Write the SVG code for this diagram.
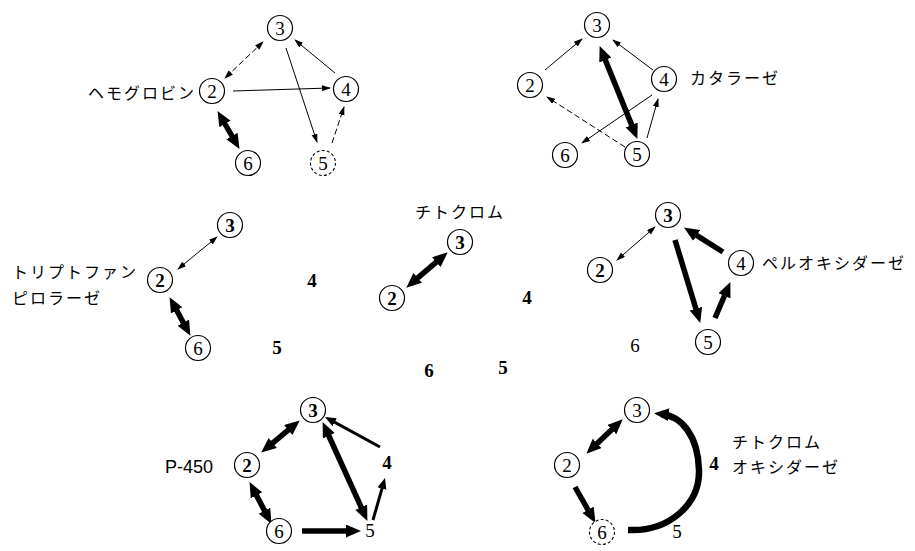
<svg xmlns="http://www.w3.org/2000/svg" width="915" height="551" viewBox="0 0 915 551">
<defs>
<style>
.nc{fill:#fff;stroke:#000;stroke-width:1.2}
.dc{fill:#fff;stroke:#000;stroke-width:1.1;stroke-dasharray:3 2.2}
.d{font-family:"Liberation Serif",serif;font-size:19px;text-anchor:middle;fill:#000}
.db{font-family:"Liberation Serif",serif;font-size:19px;font-weight:bold;text-anchor:middle;fill:#000}
.jp{font-family:"Noto Sans CJK JP","Noto Sans",sans-serif;font-size:16px;letter-spacing:2px;fill:#000}
.en{font-family:"Liberation Sans",sans-serif;font-size:18px;fill:#000}
.t{stroke:#000;stroke-width:1;fill:none}
.td{stroke:#000;stroke-width:1;fill:none;stroke-dasharray:6 3}
.m{stroke:#000;stroke-width:3;fill:none}
.k{stroke:#000;stroke-width:5.5;fill:none}
.kk{stroke:#000;stroke-width:6.5;fill:none}
</style>
<marker id="at" markerUnits="userSpaceOnUse" markerWidth="10" markerHeight="7" refX="8" refY="3" orient="auto-start-reverse"><path d="M0,0 L9,3 L0,6 z" fill="#000"/></marker>
<marker id="am" markerUnits="userSpaceOnUse" markerWidth="12" markerHeight="10" refX="7" refY="4.5" orient="auto-start-reverse"><path d="M0,0 L11,4.5 L0,9 z" fill="#000"/></marker>
<marker id="ak" markerUnits="userSpaceOnUse" markerWidth="16" markerHeight="14" refX="8" refY="6.5" orient="auto-start-reverse"><path d="M0,0 L15,6.5 L0,13 z" fill="#000"/></marker>
</defs>
<rect width="915" height="551" fill="#fff"/>

<g id="connectors">
<!-- hemoglobin -->
<line class="td" x1="263" y1="42" x2="225" y2="78" marker-start="url(#at)" marker-end="url(#at)"/>
<line class="t" x1="233" y1="91" x2="330" y2="88" marker-end="url(#at)"/>
<line class="t" x1="335" y1="73" x2="295" y2="40" marker-end="url(#at)"/>
<line class="t" x1="286" y1="48" x2="317" y2="142" marker-end="url(#at)"/>
<line class="td" x1="332" y1="143" x2="344" y2="107" marker-end="url(#at)"/>
<line class="k" x1="221" y1="117" x2="236" y2="143" marker-start="url(#ak)" marker-end="url(#ak)"/>
<!-- catalase -->
<line class="t" x1="545" y1="70" x2="582" y2="39" marker-end="url(#at)"/>
<line class="t" x1="653" y1="70" x2="613" y2="40" marker-end="url(#at)"/>
<line class="k" x1="602.3" y1="52.6" x2="634.7" y2="132.4" marker-start="url(#ak)" marker-end="url(#ak)"/>
<line class="td" x1="625" y1="147" x2="547" y2="97" marker-end="url(#at)"/>
<line class="t" x1="652" y1="95" x2="582" y2="143" marker-end="url(#at)"/>
<line class="t" x1="647" y1="138" x2="658" y2="99" marker-end="url(#at)"/>
<!-- tryptophan pyrrolase -->
<line class="t" x1="178" y1="269" x2="217" y2="237" marker-start="url(#at)" marker-end="url(#at)"/>
<line class="k" x1="172.9" y1="303.3" x2="187.1" y2="329.7" marker-start="url(#ak)" marker-end="url(#ak)"/>
<!-- cytochrome -->
<line class="k" x1="411.6" y1="283.1" x2="442.4" y2="256.9" marker-start="url(#ak)" marker-end="url(#ak)"/>
<!-- peroxidase -->
<line class="t" x1="617" y1="260" x2="655" y2="227" marker-start="url(#at)" marker-end="url(#at)"/>
<line class="k" x1="675" y1="240" x2="698.2" y2="316.3" marker-end="url(#ak)"/>
<line class="k" x1="723" y1="252" x2="689.9" y2="231.2" marker-end="url(#ak)"/>
<line class="k" x1="715" y1="318" x2="727.6" y2="288.5" marker-end="url(#ak)"/>
<!-- P-450 -->
<line class="k" x1="266.6" y1="448.1" x2="294.4" y2="424.9" marker-start="url(#ak)" marker-end="url(#ak)"/>
<line class="m" x1="380" y1="447" x2="328.5" y2="418.9" marker-end="url(#am)"/>
<line class="k" x1="325.5" y1="428.5" x2="364.5" y2="514.5" marker-start="url(#ak)" marker-end="url(#ak)"/>
<line class="m" x1="373" y1="520" x2="383.9" y2="481.8" marker-end="url(#am)"/>
<line class="k" x1="252.8" y1="488.3" x2="268.2" y2="517.7" marker-start="url(#ak)" marker-end="url(#ak)"/>
<line class="k" x1="302" y1="531" x2="354" y2="531" marker-end="url(#ak)"/>
<!-- cytochrome oxidase -->
<line class="k" x1="591.4" y1="448.9" x2="617.6" y2="424.1" marker-start="url(#ak)" marker-end="url(#ak)"/>
<line class="k" x1="575" y1="487" x2="592" y2="516.8" marker-end="url(#ak)"/>
<path class="kk" d="M628,530 C668,532 700,505 699,470 C698,436 682,416 661,414" marker-end="url(#ak)"/>
</g>

<!-- Hemoglobin -->
<g id="hemoglobin">
<text class="jp" x="88" y="99">ヘモグロビン</text>
<g id="hb-n3"><circle class="nc" cx="280" cy="28" r="12.5"/><text class="d" x="280" y="34.5">3</text></g>
<g id="hb-n2"><circle class="nc" cx="212" cy="91" r="12.5"/><text class="d" x="212" y="97.5">2</text></g>
<g id="hb-n4"><circle class="nc" cx="346" cy="89" r="12.5"/><text class="d" x="346" y="95.5">4</text></g>
<g id="hb-n6"><circle class="nc" cx="248" cy="163" r="12.5"/><text class="d" x="248" y="169.5">6</text></g>
<g id="hb-n5"><circle class="dc" cx="323" cy="163" r="12.5"/><text class="d" x="323" y="169.5">5</text></g>
</g>

<!-- Catalase -->
<g id="catalase">
<text class="jp" x="690" y="84">カタラーゼ</text>
<g id="ca-n3"><circle class="nc" cx="597" cy="25" r="12.5"/><text class="d" x="597" y="31.5">3</text></g>
<g id="ca-n2"><circle class="nc" cx="530" cy="85" r="12.5"/><text class="d" x="530" y="91.5">2</text></g>
<g id="ca-n4"><circle class="nc" cx="664" cy="79" r="12.5"/><text class="d" x="664" y="85.5">4</text></g>
<g id="ca-n6"><circle class="nc" cx="565" cy="155" r="12.5"/><text class="d" x="565" y="161.5">6</text></g>
<g id="ca-n5"><circle class="nc" cx="637" cy="154" r="12.5"/><text class="d" x="637" y="160.5">5</text></g>
</g>

<!-- Tryptophan pyrrolase -->
<g id="tryptophan">
<text class="jp" x="12" y="278">トリプトファン</text>
<text class="jp" x="12" y="304">ピロラーゼ</text>
<g id="tp-n3"><circle class="nc" cx="230" cy="225" r="12.5"/><text class="db" x="230" y="231.5">3</text></g>
<g id="tp-n2"><circle class="nc" cx="160" cy="280" r="12.5"/><text class="db" x="160" y="286.5">2</text></g>
<g id="tp-n6"><circle class="nc" cx="198" cy="348" r="12.5"/><text class="d" x="198" y="354.5">6</text></g>
<g id="tp-n4"><text class="db" x="312" y="286.5">4</text></g>
<g id="tp-n5"><text class="db" x="277" y="353.5">5</text></g>
</g>

<!-- Cytochrome -->
<g id="cytochrome">
<text class="jp" x="415" y="218">チトクロム</text>
<g id="cy-n3"><circle class="nc" cx="460" cy="242" r="12.5"/><text class="db" x="460" y="248.5">3</text></g>
<g id="cy-n2"><circle class="nc" cx="392" cy="298" r="12.5"/><text class="db" x="392" y="304.5">2</text></g>
<g id="cy-n4"><text class="db" x="527" y="303.5">4</text></g>
<g id="cy-n6"><text class="db" x="429" y="376.5">6</text></g>
<g id="cy-n5"><text class="db" x="503" y="373.5">5</text></g>
</g>

<!-- Peroxidase -->
<g id="peroxidase">
<text class="jp" x="762" y="269">ペルオキシダーゼ</text>
<g id="px-n3"><circle class="nc" cx="668" cy="215" r="12.5"/><text class="db" x="668" y="221.5">3</text></g>
<g id="px-n2"><circle class="nc" cx="600" cy="270" r="12.5"/><text class="db" x="600" y="276.5">2</text></g>
<g id="px-n4"><circle class="nc" cx="741" cy="263" r="12.5"/><text class="d" x="741" y="269.5">4</text></g>
<g id="px-n5"><circle class="nc" cx="708" cy="342" r="12.5"/><text class="d" x="708" y="348.5">5</text></g>
<g id="px-n6"><text class="d" x="635" y="351.5">6</text></g>
</g>

<!-- P-450 -->
<g id="p450">
<text class="en" x="165" y="473">P-450</text>
<g id="p4-n3"><circle class="nc" cx="313" cy="410" r="12.5"/><text class="db" x="313" y="416.5">3</text></g>
<g id="p4-n2"><circle class="nc" cx="247" cy="465" r="12.5"/><text class="db" x="247" y="471.5">2</text></g>
<g id="p4-n6"><circle class="nc" cx="279" cy="531" r="12.5"/><text class="d" x="279" y="537.5">6</text></g>
<g id="p4-n4"><text class="db" x="387" y="468.5">4</text></g>
<g id="p4-n5"><text class="d" x="370" y="536.5">5</text></g>
</g>

<!-- Cytochrome oxidase -->
<g id="cyt-oxidase">
<text class="jp" x="732" y="448">チトクロム</text>
<text class="jp" x="732" y="473">オキシダーゼ</text>
<g id="co-n3"><circle class="nc" cx="637" cy="410" r="12.5"/><text class="d" x="637" y="416.5">3</text></g>
<g id="co-n2"><circle class="nc" cx="567" cy="465" r="12.5"/><text class="d" x="567" y="471.5">2</text></g>
<g id="co-n6"><circle class="dc" cx="602" cy="532" r="12.5"/><text class="d" x="602" y="538.5">6</text></g>
<g id="co-n4"><text class="db" x="714" y="469.5">4</text></g>
<g id="co-n5"><text class="d" x="677" y="538">5</text></g>
</g>
</svg>
